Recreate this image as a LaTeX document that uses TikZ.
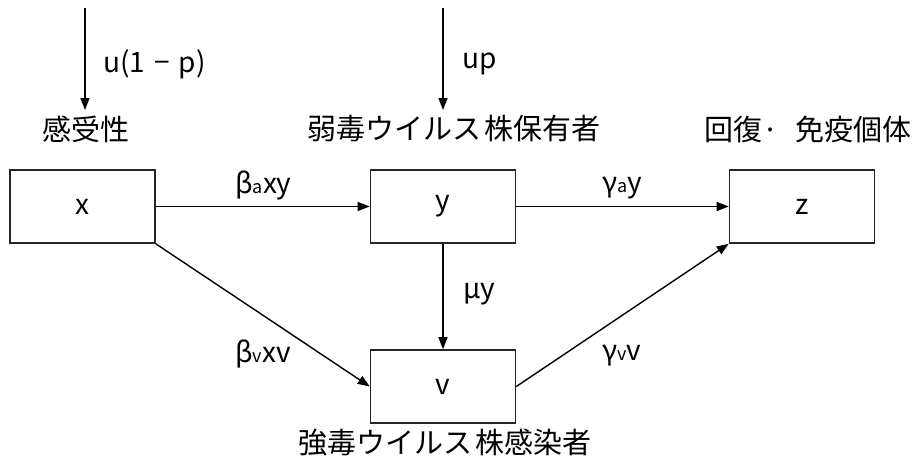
\documentclass[tikz,border=0pt]{standalone}
\usepackage{fontspec}
\setmainfont{Noto Sans CJK JP}
\usetikzlibrary{arrows.meta}
\newcommand{\sbt}[1]{{\fontsize{18}{18}\selectfont #1}}
\begin{document}
\begin{tikzpicture}[x=1pt,y=-1pt,
  box/.style={draw=black!85,line width=1.6pt,minimum width=145pt,minimum height=73pt,inner sep=0pt,font=\fontsize{28}{28}\selectfont},
  arr/.style={line width=1.4pt,-{Triangle[length=12pt,width=9pt]}},
  lab/.style={font=\fontsize{28}{28}\selectfont,inner sep=0pt,anchor=base west},
  cjk/.style={font=\fontsize{29}{29}\selectfont,inner sep=0pt}]
\useasboundingbox (0,0) rectangle (918,463);
\node[box] (x) at (82.5,206.5) {x};
\node[box] (y) at (443,206.5) {y};
\node[box] (z) at (802,206.5) {z};
\node[box] (v) at (443,386.5) {v};
\coordinate (s1) at (85,8);
\coordinate (e1) at (85,110);
\coordinate (s2) at (443,8);
\coordinate (e2) at (443,110);
\draw[arr] (s1) -- (e1);
\draw[arr] (s2) -- (e2);
\draw[arr] (x.east) -- (y.west);
\draw[arr] (y.east) -- (z.west);
\draw[arr] (y.south) -- (v.north);
\draw[arr] (x.south east) -- (v.west);
\draw[arr] (v.east) -- (z.south west);
\node[lab] (l1) at (103,72) {u(1\hspace{9pt}−\hspace{9pt}p)};
\node[lab] (l2) at (462,68) {up};
\node[lab] (l3) at (235,193) {β\sbt{a}xy};
\node[lab] (l4) at (602,192) {γ\sbt{a}y};
\node[lab] (l5) at (463,298) {μy};
\node[lab] (l6) at (235,362) {β\sbt{v}xv};
\node[lab] (l7) at (602,360) {γ\sbt{v}v};
\node[cjk] (t1) at (86,129) {感受性};
\node[cjk] (t2) at (454,129) {弱毒ウイルス\hspace{3pt}株保有者};
\node[cjk] (t3) at (808,129) {回復·\hspace{16pt}免疫個体};
\node[cjk] (t4) at (445,443) {強毒ウイルス\hspace{3pt}株感染者};
\end{tikzpicture}
\end{document}
